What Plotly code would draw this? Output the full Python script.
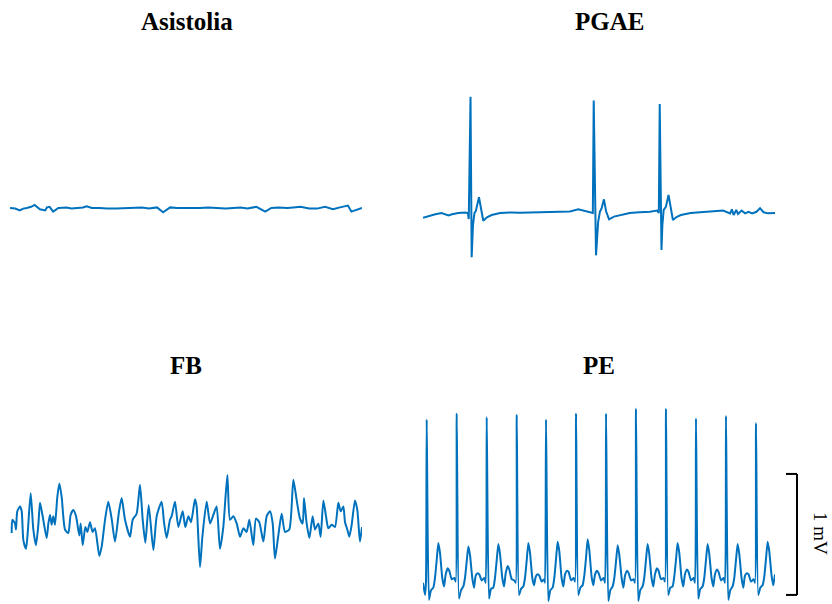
import plotly.graph_objects as go

# ---------------- data (time in s, amplitude in mV) ----------------
titles = ["Asistolia", "PGAE", "FB", "PE"]

asis_t = [0.00, 0.06, 0.11, 0.15, 0.19, 0.24, 0.28, 0.34, 0.40, 0.42, 0.45, 0.49, 0.55, 0.60, 0.64, 0.70,
          0.76, 0.83, 0.87, 0.93, 1.02, 1.10, 1.21, 1.30, 1.40, 1.50, 1.58, 1.67, 1.74, 1.82, 1.90, 2.00,
          2.08, 2.16, 2.25, 2.35, 2.45, 2.54, 2.62, 2.70, 2.80, 2.90, 2.97, 3.05, 3.15, 3.22, 3.30, 3.40,
          3.49, 3.58, 3.67, 3.75, 3.84, 3.88, 3.94, 4.00]
asis_v = [0.00, -0.005, -0.02, -0.005, 0.00, 0.01, 0.025, -0.01, -0.02, 0.005, 0.01, -0.03, 0.00, 0.005, 0.005, -0.005,
          0.00, 0.005, 0.015, 0.00, 0.00, -0.005, -0.005, 0.00, 0.00, 0.005, -0.005, 0.005, -0.035, 0.005, 0.00, 0.00,
          -0.005, 0.00, 0.005, 0.00, -0.005, 0.00, 0.005, -0.005, 0.01, -0.03, 0.00, 0.005, 0.00, 0.005, 0.01, -0.005,
          -0.005, 0.01, -0.01, 0.005, 0.02, -0.03, -0.015, 0.00]

pgae_t = [0.00, 0.06, 0.14, 0.21, 0.25, 0.29, 0.33, 0.40, 0.48, 0.51, 0.52, 0.54, 0.553, 0.568, 0.585, 0.60,
          0.636, 0.66, 0.685, 0.727, 0.78, 0.875, 1.00, 1.10, 1.22, 1.36, 1.46, 1.56, 1.67, 1.765, 1.84, 1.90,
          1.93, 1.94, 1.966, 1.99, 2.01, 2.03, 2.056, 2.08, 2.114, 2.17, 2.24, 2.35, 2.46, 2.58, 2.66, 2.68,
          2.69, 2.71, 2.72, 2.735, 2.76, 2.79, 2.82, 2.84, 2.88, 2.93, 3.04, 3.15, 3.27, 3.41, 3.49, 3.51,
          3.53, 3.56, 3.58, 3.62, 3.66, 3.70, 3.74, 3.79, 3.83, 3.87, 3.92, 4.00]
pgae_v = [-0.04, -0.025, -0.01, 0.00, -0.01, -0.02, -0.01, 0.00, 0.005, 0.00, -0.05, 0.96, -0.366, -0.10, 0.00, 0.015,
          0.13, 0.025, -0.064, -0.035, -0.017, 0.00, 0.005, 0.002, 0.004, 0.008, 0.006, 0.006, 0.012, 0.03, 0.016, 0.006,
          0.00, 0.93, -0.35, -0.075, 0.01, 0.04, 0.113, 0.016, -0.052, -0.03, -0.017, 0.00, 0.006, 0.01, 0.02, 0.00,
          0.90, -0.306, -0.10, 0.025, 0.05, 0.149, 0.025, -0.058, -0.033, -0.017, 0.00, 0.006, 0.01, 0.02, -0.003, 0.03,
          -0.017, 0.025, -0.008, 0.02, -0.003, 0.01, -0.003, 0.01, 0.04, 0.006, -0.003, 0.00]

fb_t = [0.019, 0.027, 0.057, 0.068, 0.083, 0.114, 0.133, 0.152, 0.182, 0.201, 0.235, 0.265, 0.295, 0.322, 0.341, 0.371,
        0.417, 0.436, 0.455, 0.473, 0.492, 0.511, 0.538, 0.561, 0.587, 0.625, 0.663, 0.689, 0.720, 0.750, 0.788, 0.803,
        0.826, 0.856, 0.879, 0.909, 0.939, 0.966, 1.015, 1.042, 1.080, 1.117, 1.155, 1.193, 1.239, 1.269, 1.307, 1.364,
        1.394, 1.439, 1.477, 1.508, 1.538, 1.576, 1.629, 1.667, 1.723, 1.750, 1.780, 1.818, 1.837, 1.875, 1.913, 1.962,
        1.992, 2.027, 2.057, 2.102, 2.121, 2.159, 2.186, 2.235, 2.273, 2.311, 2.348, 2.386, 2.424, 2.470, 2.500, 2.538,
        2.576, 2.614, 2.652, 2.689, 2.720, 2.765, 2.795, 2.833, 2.879, 2.917, 2.955, 2.985, 3.011, 3.049, 3.087, 3.125,
        3.174, 3.220, 3.258, 3.295, 3.326, 3.341, 3.371, 3.402, 3.439, 3.466, 3.504, 3.530, 3.561, 3.591, 3.617, 3.655,
        3.693, 3.731, 3.758, 3.788, 3.807, 3.833, 3.856, 3.883, 3.920, 3.947, 3.977, 4.000]
fb_v = [-0.10, 0.01, -0.02, -0.07, 0.08, 0.12, 0.08, -0.16, -0.23, -0.10, 0.23, -0.07, -0.20, -0.03, 0.15, 0.04,
        -0.14, -0.02, 0.05, -0.03, 0.04, -0.03, 0.20, 0.31, 0.20, -0.07, -0.10, 0.05, 0.09, 0.04, -0.12, -0.02,
        -0.20, -0.05, -0.09, -0.01, -0.09, -0.06, -0.29, -0.21, 0.01, 0.16, 0.02, -0.17, 0.08, 0.19, 0.01, -0.13,
        0.01, 0.06, 0.30, 0.01, -0.18, 0.13, -0.24, 0.04, 0.16, -0.01, -0.14, 0.01, 0.04, 0.16, -0.05, 0.08,
        -0.05, 0.04, -0.01, 0.18, 0.12, -0.38, -0.13, 0.16, -0.02, 0.05, 0.12, -0.23, -0.05, 0.38, 0.01, 0.04,
        -0.02, -0.13, -0.06, -0.09, 0.01, -0.20, 0.02, -0.01, -0.17, 0.04, 0.08, -0.02, -0.31, -0.12, 0.06, -0.09,
        -0.07, 0.34, 0.17, 0.02, -0.02, 0.19, -0.02, -0.14, 0.04, -0.07, -0.02, -0.13, 0.17, 0.04, -0.06, -0.03,
        -0.05, 0.15, 0.08, 0.12, -0.01, -0.07, -0.13, -0.03, 0.17, 0.09, -0.17, -0.05]

pe_t = [0.000, 0.023, 0.034,
        0.042, 0.068, 0.091, 0.117, 0.136, 0.156, 0.174, 0.193, 0.219, 0.239, 0.258, 0.281, 0.299, 0.326, 0.356, 0.372,
        0.383, 0.409, 0.432, 0.458, 0.477, 0.497, 0.515, 0.534, 0.560, 0.580, 0.599, 0.622, 0.640, 0.667, 0.697, 0.713,
        0.724, 0.750, 0.773, 0.799, 0.818, 0.838, 0.856, 0.875, 0.901, 0.921, 0.940, 0.963, 0.981, 1.008, 1.038, 1.054,
        1.065, 1.091, 1.114, 1.140, 1.159, 1.179, 1.197, 1.216, 1.242, 1.262, 1.281, 1.304, 1.322, 1.349, 1.379, 1.387,
        1.398, 1.424, 1.447, 1.473, 1.492, 1.512, 1.530, 1.549, 1.575, 1.595, 1.614, 1.637, 1.655, 1.682, 1.712, 1.728,
        1.739, 1.765, 1.788, 1.814, 1.833, 1.853, 1.871, 1.890, 1.916, 1.936, 1.955, 1.978, 1.996, 2.023, 2.053, 2.069,
        2.080, 2.106, 2.129, 2.155, 2.174, 2.194, 2.212, 2.231, 2.257, 2.277, 2.296, 2.319, 2.337, 2.364, 2.394, 2.409,
        2.420, 2.446, 2.469, 2.495, 2.514, 2.534, 2.552, 2.571, 2.597, 2.617, 2.636, 2.659, 2.677, 2.704, 2.734, 2.750,
        2.761, 2.787, 2.810, 2.836, 2.855, 2.875, 2.893, 2.912, 2.938, 2.958, 2.977, 3.000, 3.018, 3.045, 3.075, 3.091,
        3.102, 3.128, 3.151, 3.177, 3.196, 3.216, 3.234, 3.253, 3.279, 3.299, 3.318, 3.341, 3.359, 3.386, 3.416, 3.432,
        3.443, 3.469, 3.492, 3.518, 3.537, 3.557, 3.575, 3.594, 3.620, 3.640, 3.659, 3.682, 3.700, 3.727, 3.757, 3.773,
        3.784, 3.810, 3.833, 3.859, 3.878, 3.898, 3.916, 3.935, 3.961, 3.981, 4.000]
pe_v = [-0.04, -0.14, -0.03,
        1.31, -0.18, -0.10, -0.08, 0.00, 0.15, 0.29, 0.21, 0.00, -0.07, 0.03, 0.08, 0.06, -0.01, 0.00, -0.03,
        1.36, -0.17, -0.10, -0.07, 0.00, 0.14, 0.26, 0.19, 0.00, -0.08, 0.02, 0.04, 0.03, -0.02, 0.00, -0.04,
        1.33, -0.17, -0.09, -0.08, 0.00, 0.15, 0.28, 0.20, 0.00, -0.07, 0.04, 0.10, 0.07, -0.01, -0.02, -0.04,
        1.35, -0.14, -0.09, -0.07, 0.00, 0.15, 0.29, 0.21, 0.00, -0.06, 0.01, 0.03, 0.02, -0.03, -0.01, -0.04,
        1.31, -0.19, -0.10, -0.08, 0.00, 0.16, 0.30, 0.22, 0.00, -0.07, 0.03, 0.06, 0.05, -0.02, 0.00, -0.03,
        1.36, -0.14, -0.08, -0.06, 0.02, 0.17, 0.32, 0.23, 0.01, -0.06, 0.03, 0.06, 0.04, -0.02, 0.00, -0.04,
        1.36, -0.19, -0.10, -0.07, 0.00, 0.14, 0.27, 0.19, 0.00, -0.08, 0.02, 0.06, 0.04, -0.02, -0.01, -0.04,
        1.40, -0.19, -0.10, -0.07, 0.00, 0.15, 0.28, 0.20, 0.00, -0.07, 0.03, 0.08, 0.06, -0.01, 0.00, -0.03,
        1.40, -0.14, -0.08, -0.07, 0.01, 0.15, 0.29, 0.21, 0.00, -0.07, 0.03, 0.07, 0.05, -0.02, 0.00, -0.04,
        1.32, -0.17, -0.09, -0.07, 0.00, 0.15, 0.28, 0.20, 0.00, -0.07, 0.03, 0.07, 0.05, -0.02, 0.00, -0.04,
        1.34, -0.18, -0.10, -0.07, 0.00, 0.15, 0.28, 0.20, 0.00, -0.08, 0.02, 0.04, 0.03, -0.03, -0.01, -0.04,
        1.28, -0.14, -0.08, -0.06, 0.01, 0.16, 0.30, 0.22, 0.02, -0.06, 0.03]

scale_mv = 1.0      # scale bar length (mV)
scale_base = -0.14  # scale bar bottom (mV, PE axis)

# ---------------- figure ----------------
W, H = 832, 604
blue = "#0072BD"
fig = go.Figure()
series = [(asis_t, asis_v, "linear", 0), (pgae_t, pgae_v, "linear", 0),
          (fb_t, fb_v, "spline", 0.6), (pe_t, pe_v, "spline", 0.5)]
for i, (t, v, shp, sm) in enumerate(series):
    sfx = "" if i == 0 else str(i + 1)
    line = dict(color=blue, width=2, shape=shp)
    if shp == "spline":
        line["smoothing"] = sm
    fig.add_trace(go.Scatter(x=t, y=v, mode="lines", line=line,
                             xaxis="x" + sfx, yaxis="y" + sfx, showlegend=False, hoverinfo="skip"))

def xd(a, b):
    return [a / W, b / W]

def yd(top, bottom):
    return [1 - bottom / H, 1 - top / H]

ax = dict(visible=False, showgrid=False, zeroline=False, fixedrange=True)
k = 121.0  # px per mV
layout = dict(
    width=W, height=H, autosize=False,
    margin=dict(l=0, r=0, t=0, b=0),
    paper_bgcolor="white", plot_bgcolor="white",
    xaxis=dict(ax, domain=xd(10, 362), range=[0, 4], anchor="y"),
    yaxis=dict(ax, domain=yd(70, 330), range=[(208 - 330) / k, (208 - 70) / k], anchor="x"),
    xaxis2=dict(ax, domain=xd(423, 775), range=[0, 4], anchor="y2"),
    yaxis2=dict(ax, domain=yd(70, 330), range=[(213 - 330) / k, (213 - 70) / k], anchor="x2"),
    xaxis3=dict(ax, domain=xd(10, 362), range=[0, 4], anchor="y3"),
    yaxis3=dict(ax, domain=yd(395, 604), range=[(521 - 604) / k, (521 - 395) / k], anchor="x3"),
    xaxis4=dict(ax, domain=xd(423, 775), range=[0, 4], anchor="y4"),
    yaxis4=dict(ax, domain=yd(395, 604), range=[-0.215, -0.215 + 209 / k], anchor="x4"),
)
fig.update_layout(**layout)

title_pos = [(187, 22), (609, 22), (186, 365), (599, 365)]
for txt, (px, py) in zip(titles, title_pos):
    fig.add_annotation(text="<b>%s</b>" % txt, x=px / W, y=1 - py / H, xref="paper", yref="paper",
                       showarrow=False, xanchor="center", yanchor="middle",
                       font=dict(family="Liberation Serif, Times New Roman, serif", size=25, color="black"))

# scale bar (1 mV on the PE axis)
xb, xt = 797 / W, 786 / W
ln = dict(color="black", width=2)
fig.add_shape(type="line", xref="paper", yref="y4", x0=xb, x1=xb, y0=scale_base, y1=scale_base + scale_mv, line=ln)
fig.add_shape(type="line", xref="paper", yref="y4", x0=xt, x1=xb, y0=scale_base, y1=scale_base, line=ln)
fig.add_shape(type="line", xref="paper", yref="y4", x0=xt, x1=xb, y0=scale_base + scale_mv, y1=scale_base + scale_mv, line=ln)
fig.add_annotation(text="1 mV", x=821 / W, y=1 - 533 / H, xref="paper", yref="paper", showarrow=False,
                   textangle=90, xanchor="center", yanchor="middle",
                   font=dict(family="Liberation Serif, Times New Roman, serif", size=19, color="black"))

fig.write_html("out.html")
